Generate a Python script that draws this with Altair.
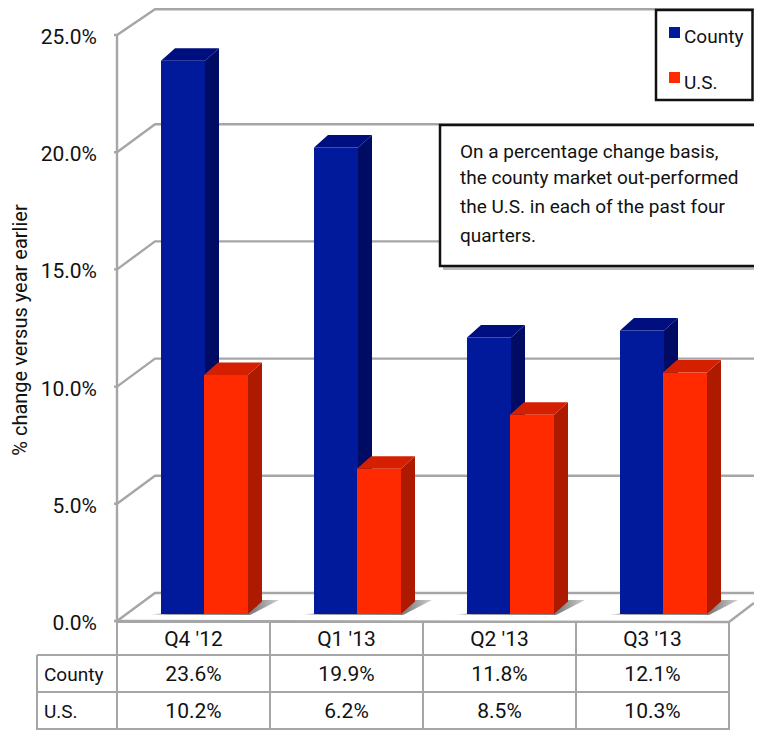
import altair as alt
import pandas as pd

quarters = ["Q4 '12", "Q1 '13", "Q2 '13", "Q3 '13"]
county = [23.6, 19.9, 11.8, 12.1]
us = [10.2, 6.2, 8.5, 10.3]
series_names = ["County", "U.S."]
y_ticks = [0, 5, 10, 15, 20, 25]
y_title = "% change versus year earlier"
note_lines = ["On a percentage change basis,", "the county market out-performed",
              "the U.S. in each of the past four", "quarters."]

FONT = "Roboto"
GRID = "#a6a6a6"
INK = "#111111"
PX_Q = 153.0      # pixels per quarter
PX_P = 23.44      # pixels per percentage point
LEFT, RIGHT = 8, 754
TOP, BOTTOM = 8, 730


def X(px):
    return (px - 117) / PX_Q


def Y(px):
    return (621 - px) / PX_P


xs = alt.Scale(domain=[X(LEFT), X(RIGHT)], nice=False, zero=False)
ys = alt.Scale(domain=[Y(BOTTOM), Y(TOP)], nice=False, zero=False)
ex = alt.X("x:Q", scale=xs, axis=None)
ey = alt.Y("y:Q", scale=ys, axis=None)
ex2 = alt.X2("x2:Q")
ey2 = alt.Y2("y2:Q")

# ---- walls and grid ----
wall = []
for p in y_ticks:
    back = min(p + 28 / PX_P, Y(TOP + 1.2))
    wall += [
        dict(g=f"g{p}", o=0, x=X(114), y=p),
        dict(g=f"g{p}", o=1, x=X(117), y=p),
        dict(g=f"g{p}", o=2, x=X(155), y=back),
        dict(g=f"g{p}", o=3, x=X(RIGHT), y=back),
    ]
wall += [dict(g="v", o=0, x=X(117), y=25), dict(g="v", o=1, x=X(117), y=0)]
wall += [dict(g="f", o=0, x=X(117), y=0), dict(g="f", o=1, x=X(729), y=Y(622)),
         dict(g="f", o=2, x=X(RIGHT), y=Y(603))]
layers = [
    alt.Chart(pd.DataFrame(wall)).mark_line(color=GRID, strokeWidth=2.4).encode(
        x=ex, y=ey, detail="g:N", order="o:Q")
]

# ---- y axis labels and title, as text ----
tick_df = pd.DataFrame([dict(x=X(97), y=p - 3 / PX_P, t=f"{p:.1f}%") for p in y_ticks])
layers.append(alt.Chart(tick_df).mark_text(font=FONT, fontSize=21, color=INK, align="right").encode(
    x=ex, y=ey, text="t:N"))
title_df = pd.DataFrame([dict(x=X(21), y=Y(330), t=y_title)])
layers.append(alt.Chart(title_df).mark_text(font=FONT, fontSize=20, color=INK, angle=270).encode(
    x=ex, y=ey, text="t:N"))

# ---- floor shadows ----
shadow = []
for i in range(len(quarters)):
    shadow += [
        dict(g=i, x=i + X(148), x2=i + X(250), y=Y(615)),
        dict(g=i, x=i + X(262), x2=i + X(279), y=Y(600)),
    ]
grad = alt.Gradient(gradient="linear", x1=0, x2=1, y1=0, y2=0,
                    stops=[alt.GradientStop(offset=0, color="#ffffff"),
                           alt.GradientStop(offset=0.15, color="#a8a8a8"),
                           alt.GradientStop(offset=0.8, color="#808080"),
                           alt.GradientStop(offset=1, color="#d0d0d0")])
layers.append(alt.Chart(pd.DataFrame(shadow)).mark_area(orient="horizontal", color=grad).encode(
    x=ex, x2=ex2, y=ey, detail="g:N"))

# ---- 3-D bars ----
SHIFT = 7 / PX_P
DX = 14 / PX_Q
DY = 12.5 / PX_P
W = 44 / PX_Q
starts = [X(161), X(204)]
palette = [("#001a9b", "#000f80", "#000b63"), ("#ff2a00", "#d42000", "#ad1a00")]

for values, start, (front, top, side) in zip([county, us], starts, palette):
    side_rows, top_rows, front_rows = [], [], []
    for i, v in enumerate(values):
        l, r = i + start, i + start + W
        side_rows += [dict(g=i, x=r, y=v + SHIFT, y2=SHIFT),
                      dict(g=i, x=r + DX, y=v + SHIFT + DY, y2=SHIFT + DY)]
        top_rows += [dict(g=i, x=l, x2=r, y=v + SHIFT),
                     dict(g=i, x=l + DX, x2=r + DX, y=v + SHIFT + DY)]
        front_rows.append(dict(x=l, x2=r, y=v + SHIFT, y2=SHIFT))
    layers += [
        alt.Chart(pd.DataFrame(side_rows)).mark_area(color=side).encode(x=ex, y=ey, y2=ey2, detail="g:N"),
        alt.Chart(pd.DataFrame(top_rows)).mark_area(orient="horizontal", color=top).encode(
            x=ex, x2=ex2, y=ey, detail="g:N"),
        alt.Chart(pd.DataFrame(front_rows)).mark_rect(color=front).encode(x=ex, x2=ex2, y=ey, y2=ey2),
    ]

# ---- data table ----
ROW_LINES = [655, 692, 729]
ROW_TEXT = [640, 675, 712]
table = [dict(x=X(117), x2=X(729), y=Y(622), y2=Y(622))]
for py in ROW_LINES:
    table.append(dict(x=X(37), x2=X(729), y=Y(py), y2=Y(py)))
table.append(dict(x=X(37), x2=X(37), y=Y(ROW_LINES[0]), y2=Y(BOTTOM)))
for i in range(len(quarters) + 1):
    table.append(dict(x=i + X(117), x2=i + X(117), y=Y(621), y2=Y(BOTTOM)))
layers.append(alt.Chart(pd.DataFrame(table)).mark_rule(color=GRID, strokeWidth=2).encode(
    x=ex, x2=ex2, y=ey, y2=ey2))

cells = []
for i, q in enumerate(quarters):
    c = i + X(193.5)
    cells.append(dict(x=c, y=Y(ROW_TEXT[0]), t=q))
    cells.append(dict(x=c, y=Y(ROW_TEXT[1]), t=f"{county[i]:.1f}%"))
    cells.append(dict(x=c, y=Y(ROW_TEXT[2]), t=f"{us[i]:.1f}%"))
layers.append(alt.Chart(pd.DataFrame(cells)).mark_text(font=FONT, fontSize=21, color=INK).encode(
    x=ex, y=ey, text="t:N"))
row_labels = [dict(x=X(44), y=Y(ROW_TEXT[1]), t=series_names[0]), dict(x=X(44), y=Y(ROW_TEXT[2]), t=series_names[1])]

# ---- legend ----
box = pd.DataFrame([dict(x=X(656), x2=X(752.5), y=Y(10), y2=Y(100))])
layers.append(alt.Chart(box).mark_rect(fill="white", stroke=INK, strokeWidth=2.5).encode(
    x=ex, x2=ex2, y=ey, y2=ey2))
swatches = pd.DataFrame([dict(x=X(669), x2=X(680), y=Y(27), y2=Y(38), s=series_names[0]),
                         dict(x=X(669), x2=X(680), y=Y(72), y2=Y(83), s=series_names[1])])
layers.append(alt.Chart(swatches).mark_rect().encode(
    x=ex, x2=ex2, y=ey, y2=ey2,
    color=alt.Color("s:N", scale=alt.Scale(domain=series_names, range=[palette[0][0], palette[1][0]]), legend=None)))
row_labels += [dict(x=X(684), y=Y(37), t=series_names[0]), dict(x=X(684), y=Y(83), t=series_names[1])]
layers.append(alt.Chart(pd.DataFrame(row_labels)).mark_text(font=FONT, fontSize=19, color=INK, align="left").encode(
    x=ex, y=ey, text="t:N"))

# ---- note box ----
note_shadow = pd.DataFrame([dict(x=X(443), x2=X(770), y=Y(129), y2=Y(270))])
layers.append(alt.Chart(note_shadow).mark_rect(fill="#bbbbbb").encode(x=ex, x2=ex2, y=ey, y2=ey2))
note_box = pd.DataFrame([dict(x=X(440), x2=X(770), y=Y(125), y2=Y(266))])
layers.append(alt.Chart(note_box).mark_rect(fill="white", stroke=INK, strokeWidth=2.5).encode(
    x=ex, x2=ex2, y=ey, y2=ey2))
note_y = [152, 178, 207, 236]
notes = pd.DataFrame([dict(x=X(460), y=Y(py), t=t) for py, t in zip(note_y, note_lines)])
layers.append(alt.Chart(notes).mark_text(font=FONT, fontSize=19, color=INK, align="left").encode(
    x=ex, y=ey, text="t:N"))

chart = alt.layer(*layers).properties(
    width=RIGHT - LEFT, height=BOTTOM - TOP, padding=0, autosize=alt.AutoSizeParams(type="none")
).configure_view(stroke=None)

chart.save("out.html", embed_options={"renderer": "svg", "actions": False})
